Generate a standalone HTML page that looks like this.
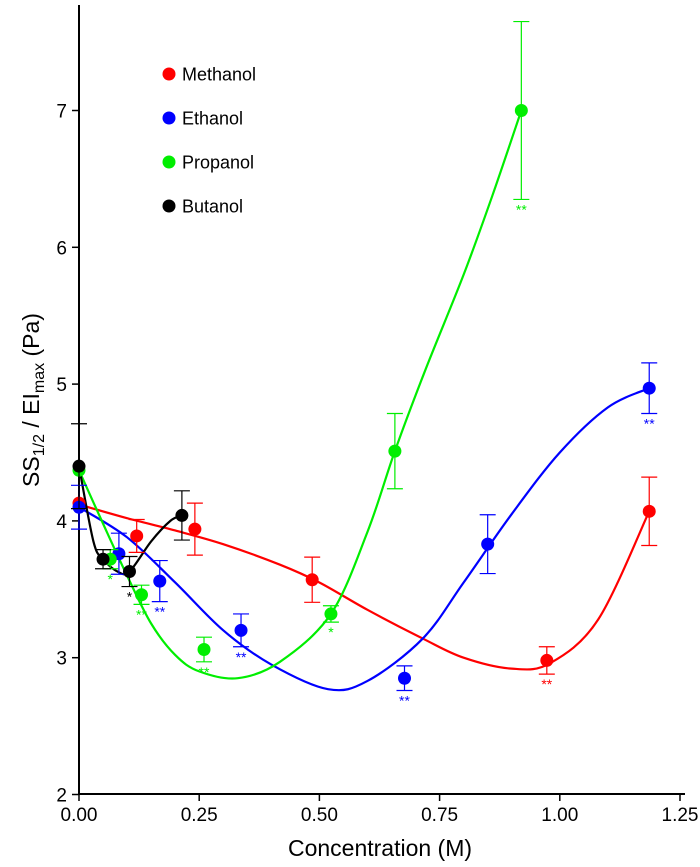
<!DOCTYPE html>
<html><head><meta charset="utf-8"><style>
html,body{margin:0;padding:0;background:#fff}
svg{display:block;font-family:"Liberation Sans",Arial,sans-serif}
</style></head><body>
<svg id="chart" width="700" height="867" viewBox="0 0 700 867" xmlns="http://www.w3.org/2000/svg">
<g id="axes"></g>
<g id="curves"></g>
<g id="points"></g>
<g id="legend"></g>
<text x="380" y="856" font-size="23" text-anchor="middle">Concentration (M)</text>
<text transform="translate(39,400) rotate(-90)" font-size="23" text-anchor="middle">SS<tspan font-size="16" dy="5">1/2</tspan><tspan dy="-5"> / EI</tspan><tspan font-size="16" dy="5">max</tspan><tspan dy="-5"> (Pa)</tspan></text>
</svg>
<script>
const xTicks=[0,0.25,0.5,0.75,1.0,1.25];
const xTickLabels=["0.00","0.25","0.50","0.75","1.00","1.25"];
const yTicks=[2,3,4,5,6,7];
const seriesNames=["Methanol","Ethanol","Propanol","Butanol"];
const seriesColors=["#ff0000","#0000ff","#00ee00","#000000"];
const methX=[0,0.12,0.241,0.485,0.973,1.186];
const methY=[4.13,3.89,3.94,3.57,2.98,4.07];
const methE=[0,0.12,0.19,0.165,0.1,0.25];
const methS=["","","","","**",""];
const ethX=[0,0.083,0.168,0.337,0.677,0.85,1.186];
const ethY=[4.10,3.76,3.56,3.20,2.85,3.83,4.97];
const ethE=[0.16,0.15,0.15,0.12,0.09,0.215,0.185];
const ethS=["","","**","**","**","","**"];
const propX=[0,0.065,0.13,0.26,0.524,0.657,0.92];
const propY=[4.37,3.72,3.46,3.06,3.32,4.51,7.0];
const propE=[0,0.07,0.07,0.09,0.06,0.275,0.65];
const propS=["","*","**","**","*","","**"];
const butX=[0,0.05,0.105,0.214];
const butY=[4.40,3.72,3.63,4.04];
const butE=[0.31,0.07,0.11,0.18];
const butS=["","","*",""];
const methFitX=[0,0.1,0.2,0.3,0.418,0.5,0.6,0.715,0.8,0.9,0.98,1.08,1.186];
const methFitY=[4.12,4.02,3.93,3.83,3.68,3.55,3.35,3.14,3.0,2.92,2.96,3.28,4.07];
const ethFitX=[0,0.1,0.2,0.3,0.4,0.518,0.6,0.715,0.8,0.9,1.0,1.1,1.186];
const ethFitY=[4.10,3.88,3.55,3.2,2.95,2.77,2.83,3.14,3.55,4.05,4.5,4.83,4.97];
const propFitX=[0,0.05,0.1,0.15,0.2,0.25,0.33,0.418,0.524,0.6,0.657,0.72,0.8,0.86,0.92];
const propFitY=[4.37,3.98,3.6,3.25,3.02,2.9,2.85,2.97,3.32,3.92,4.51,5.1,5.8,6.38,7.0];
const butFitX=[0,0.03,0.05,0.08,0.105,0.15,0.19,0.214];
const butFitY=[4.40,3.85,3.72,3.63,3.63,3.85,4.0,4.04];

const NS="http://www.w3.org/2000/svg";
function X(v){return 79+v*480.8;}
function Y(v){return 794.5-(v-2)*136.8;}
function mk(tag,attrs,parent){const e=document.createElementNS(NS,tag);for(const k in attrs)e.setAttribute(k,attrs[k]);parent.appendChild(e);return e;}
const axes=document.getElementById('axes');
let a=mk('line',{x1:79,y1:5,x2:79,y2:795,stroke:'#000','stroke-width':2},axes);


a=mk('line',{x1:78,y1:794,x2:685,y2:794,stroke:'#000','stroke-width':2},axes);


xTicks.forEach((t,i)=>{
  const l=mk('line',{x1:X(t),y1:794,x2:X(t),y2:801,stroke:'#000','stroke-width':1.5},axes);
  
  
  const tx=mk('text',{x:X(t),y:821,'font-size':19,'text-anchor':'middle'},axes);
  tx.textContent=xTickLabels[i];
  
  
});
yTicks.forEach(t=>{
  const l=mk('line',{x1:72,y1:Y(t),x2:79,y2:Y(t),stroke:'#000','stroke-width':1.5},axes);
  
  
  const tx=mk('text',{x:67,y:Y(t)+7,'font-size':19,'text-anchor':'end'},axes);
  tx.textContent=String(t);
  
  
});
function spline(xs,ys){
  const p=xs.map((x,i)=>[X(x),Y(ys[i])]);
  let d='M'+p[0][0]+','+p[0][1];
  for(let i=0;i<p.length-1;i++){
    const p0=p[Math.max(0,i-1)],p1=p[i],p2=p[i+1],p3=p[Math.min(p.length-1,i+2)];
    const c1=[p1[0]+(p2[0]-p0[0])/6,p1[1]+(p2[1]-p0[1])/6];
    const c2=[p2[0]-(p3[0]-p1[0])/6,p2[1]-(p3[1]-p1[1])/6];
    d+=' C'+c1+' '+c2+' '+p2;
  }
  return d;
}
const curves=document.getElementById('curves');
const fits=[[methFitX,methFitY],[ethFitX,ethFitY],[propFitX,propFitY],[butFitX,butFitY]];
const fitNames=['methanol-fit','ethanol-fit','propanol-fit','butanol-fit'];
fits.forEach((f,i)=>{
  const p=mk('path',{d:spline(f[0],f[1]),fill:'none',stroke:seriesColors[i],'stroke-width':2.2},curves);
  
  
});
const pts=document.getElementById('points');
const sets=[[methX,methY,methE,methS],[ethX,ethY,ethE,ethS],[propX,propY,propE,propS],[butX,butY,butE,butS]];
const ptNames=['methanol-point','ethanol-point','propanol-point','butanol-point'];
sets.forEach((s,k)=>{
  const c=seriesColors[k];
  s[0].forEach((x,i)=>{
    const cx=X(x),cy=Y(s[1][i]),e=s[2][i];
    if(e>0){
      const g=mk('path',{d:`M${cx},${Y(s[1][i]+e)}V${Y(s[1][i]-e)}M${cx-8},${Y(s[1][i]+e)}h16M${cx-8},${Y(s[1][i]-e)}h16`,stroke:c,'stroke-width':1.2,fill:'none'},pts);
      
      
    }
    const d=mk('circle',{cx:cx,cy:cy,r:6.5,fill:c},pts);
    
    
    if(s[3][i]){
      const t=mk('text',{x:cx,y:Y(s[1][i]-e)+15,'font-size':14,'text-anchor':'middle',fill:c},pts);
      t.textContent=s[3][i];
      
      
    }
  });
});
const leg=document.getElementById('legend');
seriesNames.forEach((n,i)=>{
  const y=74+i*44;
  const d=mk('circle',{cx:169,cy:y,r:6.5,fill:seriesColors[i]},leg);
  
  
  const t=mk('text',{x:182,y:y+6.5,'font-size':18},leg);
  t.textContent=n;
  
  
});
</script>
</body></html>
